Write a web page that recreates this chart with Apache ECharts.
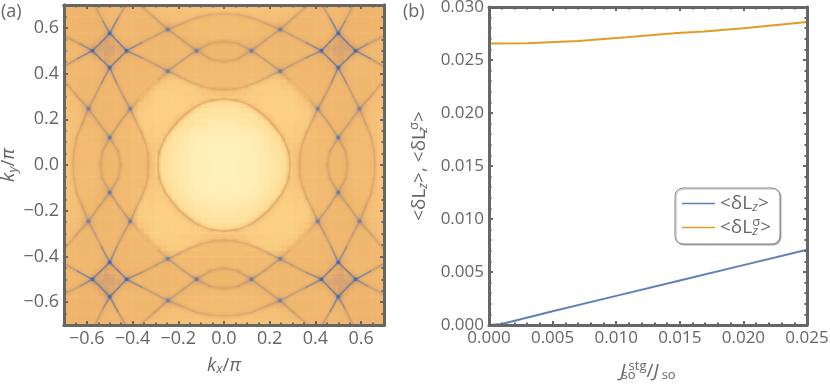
<!DOCTYPE html>
<html>
<head>
<meta charset="utf-8">
<style>html,body{margin:0;padding:0;background:#fff}#chart{width:830px;height:385px}</style>
<script src="https://cdn.jsdelivr.net/npm/echarts@6/dist/echarts.min.js"></script>
</head>
<body>
<div id="chart"></div>
<script>
// panel (b) values
var stgRatioBlue = [0, 0.001, 0.005, 0.010, 0.015, 0.020, 0.025];
var deltaLz = [0, 0.0001, 0.0013, 0.00275, 0.0042, 0.00565, 0.0071];
var stgRatioOrange = [0, 0.003, 0.007, 0.0108, 0.0148, 0.0169, 0.020, 0.025];
var deltaLzSigma = [0.02655, 0.02657, 0.02679, 0.02714, 0.02755, 0.02770, 0.0280, 0.02858];

// panel (a) tick labels
var mapTicks = [-0.6, -0.4, -0.2, 0, 0.2, 0.4, 0.6];

// panel (a) intensity background, read off one octant of the map (the picture is four-fold symmetric)
// row j is ky = 0.0125 + 0.025 j, column i is kx = 0.0125 + 0.025 i, i <= j
var fieldRows = [
  [0],
  [0,0],
  [1,1,1],
  [2,2,3,3],
  [4,4,5,5,7],
  [6,6,7,8,9,11],
  [9,9,10,11,12,14,16],
  [12,12,13,14,15,17,20,24],
  [15,15,16,17,18,20,24,33,33],
  [18,18,19,20,22,25,33,31,30,31],
  [21,21,22,24,28,33,31,30,30,30,30],
  [27,29,34,34,33,32,31,30,30,30,30,30],
  [38,38,37,36,34,33,33,32,31,31,31,32,34],
  [44,42,40,37,35,33,32,32,32,32,33,35,38,44],
  [46,46,46,44,41,38,35,34,34,34,36,40,46,48,48],
  [46,46,46,46,46,46,45,42,38,38,42,47,48,49,49,50],
  [47,47,47,47,47,47,47,47,47,46,47,48,48,49,50,50,50],
  [47,47,47,47,47,47,47,47,48,49,50,50,50,50,50,50,50,51],
  [50,49,48,47,47,47,48,49,50,50,50,50,50,50,50,51,52,53,58],
  [50,50,50,50,49,48,48,49,50,50,50,50,50,50,50,51,52,54,60,68],
  [50,50,50,50,50,50,50,50,50,50,50,50,50,50,50,51,52,56,66,70,70],
  [50,50,49,49,50,50,50,50,50,50,50,50,50,50,50,51,52,52,56,64,70,66],
  [46,46,47,47,48,49,50,50,50,50,50,50,50,50,50,50,49,49,52,62,66,60,54],
  [46,46,46,46,47,47,48,48,49,50,50,50,50,50,50,50,49,49,49,50,54,52,52,52],
  [46,46,46,46,46,46,47,47,47,48,50,50,50,50,50,50,49,49,49,50,52,53,53,52,52],
  [46,46,46,46,44,42,42,42,42,43,44,47,49,50,50,50,49,49,49,50,50,52,52,52,52,52],
  [40,40,40,40,40,40,40,41,41,41,42,43,45,47,49,50,50,49,49,49,50,51,52,52,52,52,52],
  [38,38,38,38,38,38,38,39,39,40,40,41,42,44,46,49,50,50,49,49,50,50,52,52,52,52,52,52]
];

// panel (a) ridges as [kx, ky, strength] in the octant kx <= ky
var ridgeInner = [[0,0.29,62],[0.055,0.284,62],[0.114,0.262,63],[0.145,0.24,63],[0.171,0.219,63],[0.197,0.197,63]];
var ridgeArcLow = [[0,0.33,64],[0.05,0.333,64],[0.1,0.345,65],[0.15,0.365,67],[0.2,0.39,72],[0.246,0.41,84],[0.3,0.44,79],[0.36,0.47,81],[0.426,0.5,93],[0.465,0.54,90],[0.5,0.576,95],[0.53,0.63,81],[0.565,0.7,76]];
var ridgeArcHigh = [[0,0.66,64],[0.06,0.657,65],[0.12,0.645,68],[0.18,0.62,72],[0.246,0.593,80],[0.3,0.565,77],[0.36,0.535,81],[0.426,0.5,93],[0.463,0.463,90]];
var ridgeLensOuter = [[0,0.54,66],[0.06,0.532,69],[0.12,0.5,82],[0.18,0.46,77],[0.246,0.41,82],[0.29,0.37,46],[0.33,0.33,42]];
var ridgeLensInner = [[0,0.452,66],[0.06,0.463,69],[0.12,0.5,82],[0.18,0.545,75],[0.246,0.593,80],[0.31,0.65,75],[0.37,0.7,70]];
var ridgeCorner = [[0.43,0.7,77],[0.465,0.64,85],[0.5,0.576,95],[0.537,0.537,90]];
var ridgeList = [ridgeInner, ridgeArcLow, ridgeArcHigh, ridgeLensOuter, ridgeLensInner, ridgeCorner];
var ridgeNodes = [[0.5,0.576,100],[0.426,0.5,100],[0.12,0.5,94],[0.246,0.41,92],[0.246,0.593,92]];

var textColor = '#666666';
var frameColor = '#666666';
var fontName = '"Open Sans", sans-serif';
var mapColors = ['#fff1bb','#ffeaae','#fee09c','#fbd084','#f5c078','#f0b76e','#ebae68','#d6a474','#b49c84','#6f82aa','#3e66b3'];

var mirrors = [[1,1,0],[-1,1,0],[1,-1,0],[-1,-1,0],[1,1,1],[-1,1,1],[1,-1,1],[-1,-1,1]];

function place(p, m){
    var a = m[2] ? p[1] : p[0];
    var b = m[2] ? p[0] : p[1];
    return [m[0] * a, m[1] * b];
}

function buildField(){
    var out = [];
    for(var a = 0; a < 56; a++){
        for(var b = 0; b < 56; b++){
            var i = a >= 28 ? a - 28 : 27 - a;
            var j = b >= 28 ? b - 28 : 27 - b;
            out.push([a, b, fieldRows[Math.max(i, j)][Math.min(i, j)]]);
        }
    }
    return out;
}

function buildRidges(){
    var out = [];
    ridgeList.forEach(function(curve){
        mirrors.forEach(function(m){
            for(var k = 0; k < curve.length - 1; k++){
                var p0 = place(curve[k], m);
                var p1 = place(curve[k + 1], m);
                out.push([p0[0], p0[1], p1[0], p1[1], (curve[k][2] + curve[k + 1][2]) / 2]);
            }
        });
    });
    return out;
}

function buildNodes(){
    var out = [];
    ridgeNodes.forEach(function(n){
        mirrors.forEach(function(m){
            var p = place(n, m);
            out.push([p[0], p[1], n[2]]);
        });
    });
    return out;
}

function pairs(xs, ys){
    return xs.map(function(x, i){ return [x, ys[i]]; });
}

function cellIndex(){
    var out = [];
    for(var a = 0; a < 56; a++){ out.push(a); }
    return out;
}

function renderRidge(params, api){
    var p0 = api.coord([api.value(0), api.value(1)]);
    var p1 = api.coord([api.value(2), api.value(3)]);
    return {
        type: 'line',
        shape: {x1: p0[0], y1: p0[1], x2: p1[0], y2: p1[1]},
        style: {stroke: api.visual('color'), lineWidth: 1.5, opacity: 0.85, lineCap: 'round', shadowBlur: 3,
            shadowColor: 'rgba(190,130,80,0.55)', fill: null}
    };
}

function labelFixed(d){
    return function(v){ return v.toFixed(d).replace('-', '\u2212'); };
}

function frameAxis(opt){
    var base = {
        type: 'value', z: 6,
        axisLine: {show: true, onZero: false, lineStyle: {color: frameColor, width: 3}},
        axisTick: {show: true, inside: true, length: opt.tick || 4, lineStyle: {color: frameColor, width: 2}},
        minorTick: {show: !!opt.minor, splitNumber: opt.minor || 5, length: 2.5, lineStyle: {color: frameColor, width: 2}},
        splitLine: {show: false}, minorSplitLine: {show: false},
        axisLabel: {show: !!opt.label, color: textColor, fontSize: opt.labelSize || 17, fontFamily: fontName, margin: opt.margin || 5,
            formatter: opt.label, showMinLabel: true, showMaxLabel: true, hideOverlap: false}
    };
    if(opt.major){
        base.axisTick.customValues = opt.major;
        base.axisLabel.customValues = opt.major;
    }
    ['gridIndex', 'position', 'min', 'max', 'interval', 'name', 'nameLocation', 'nameGap', 'nameTextStyle'].forEach(function(k){
        if(opt[k] !== undefined){ base[k] = opt[k]; }
    });
    return base;
}

var nameRich = {
    it: {fontSize: 19, fontFamily: fontName, color: textColor, fontStyle: 'italic'},
    n: {fontSize: 19, fontFamily: fontName, color: textColor},
    sub: {fontSize: 13, fontFamily: fontName, color: textColor, padding: [8, 0, 0, 0]},
    subi: {fontSize: 13, fontFamily: fontName, color: textColor, fontStyle: 'italic', padding: [8, 0, 0, 0]},
    stack: {fontSize: 13, fontFamily: fontName, color: textColor, fontStyle: 'italic', padding: [8, 0, 0, 0], width: 0, align: 'left'},
    stackn: {fontSize: 13, fontFamily: fontName, color: textColor, padding: [8, 0, 0, 0], width: 0, align: 'left'},
    sup: {fontSize: 13, fontFamily: fontName, color: textColor, padding: [0, 0, 10, 0]}
};
var nameLz = '<\u03b4Lz>';
var nameLzs = '<\u03b4Lz\u03c3>';

var panelA = {left: 64, top: 5, width: 320, height: 320, outerBoundsMode: 'none'};
var panelB = {left: 489, top: 7, width: 318, height: 318, outerBoundsMode: 'none'};

var option = {
    animation: false,
    backgroundColor: '#ffffff',
    textStyle: {fontFamily: fontName},
    grid: [panelA, panelA, panelB, panelA],
    xAxis: [
        {type: 'category', gridIndex: 0, show: false, data: cellIndex()},
        frameAxis({gridIndex: 1, position: 'bottom', min: -0.7, max: 0.7, interval: 0.05, tick: 2.5}),
        frameAxis({gridIndex: 1, position: 'top', min: -0.7, max: 0.7, interval: 0.05, tick: 2.5}),
        frameAxis({gridIndex: 2, position: 'bottom', min: 0, max: 0.025, interval: 0.005, minor: 5, label: labelFixed(3),
            name: '{it|J\u2009}{stackn|so}{sup|stg}{n|/}{it|J\u2009}{sub|so}', nameLocation: 'middle', nameGap: 35,
            nameTextStyle: {rich: nameRich}}),
        frameAxis({gridIndex: 2, position: 'top', min: 0, max: 0.025, interval: 0.005, minor: 5}),
        frameAxis({gridIndex: 3, position: 'bottom', min: -0.7, max: 0.7, major: mapTicks, label: labelFixed(1), labelSize: 18,
            name: '{it|k}{subi|x}{n|/}{it|\u03c0}', nameLocation: 'middle', nameGap: 30, nameTextStyle: {rich: nameRich}}),
        frameAxis({gridIndex: 3, position: 'top', min: -0.7, max: 0.7, major: mapTicks})
    ],
    yAxis: [
        {type: 'category', gridIndex: 0, show: false, data: cellIndex()},
        frameAxis({gridIndex: 1, position: 'left', min: -0.7, max: 0.7, interval: 0.05, tick: 2.5}),
        frameAxis({gridIndex: 1, position: 'right', min: -0.7, max: 0.7, interval: 0.05, tick: 2.5}),
        frameAxis({gridIndex: 2, position: 'left', min: 0, max: 0.03, interval: 0.005, minor: 5, label: labelFixed(3),
            name: '{n|<\u03b4L}{subi|z}{n|>, <\u03b4L}{stack|z}{sup|\u03c3}{n|>}', nameLocation: 'middle', nameGap: 58, nameTextStyle: {rich: nameRich}}),
        frameAxis({gridIndex: 2, position: 'right', min: 0, max: 0.03, interval: 0.005, minor: 5}),
        frameAxis({gridIndex: 3, position: 'left', min: -0.7, max: 0.7, major: mapTicks, label: labelFixed(1), labelSize: 18,
            name: '{it|k}{subi|y}{n|/}{it|\u03c0}', nameLocation: 'middle', nameGap: 39, nameTextStyle: {rich: nameRich}}),
        frameAxis({gridIndex: 3, position: 'right', min: -0.7, max: 0.7, major: mapTicks})
    ],
    visualMap: [
        {show: false, seriesIndex: 0, dimension: 2, min: 0, max: 100, inRange: {color: mapColors}},
        {show: false, seriesIndex: 1, dimension: 4, min: 0, max: 100, inRange: {color: mapColors}},
        {show: false, seriesIndex: 2, dimension: 2, min: 0, max: 100, inRange: {color: mapColors}}
    ],
    legend: {
        show: true, orient: 'vertical', left: 675, top: 188, padding: [6, 9, 6, 7], itemGap: 2,
        icon: 'rect', itemWidth: 33, itemHeight: 1.5, backgroundColor: '#ffffff', borderColor: '#8a8a8a', borderWidth: 1, borderRadius: 8,
        shadowColor: 'rgba(0,0,0,0.3)', shadowOffsetX: 1, shadowOffsetY: 1, shadowBlur: 1,
        data: [nameLz, nameLzs],
        textStyle: {color: textColor, fontSize: 19, fontFamily: fontName, rich: nameRich},
        formatter: function(name){
            if(name === nameLz){ return '{n|<\u03b4L}{subi|z}{n|>}'; }
            return '{n|<\u03b4L}{stack|z}{sup|\u03c3}{n|>}';
        }
    },
    graphic: [
        {type: 'text', left: 1, top: 3, style: {text: '(a)', fill: textColor, font: '18px "Open Sans"'}},
        {type: 'text', left: 403, top: 3, style: {text: '(b)', fill: textColor, font: '18px "Open Sans"'}}
    ],
    series: [
        {type: 'heatmap', xAxisIndex: 0, yAxisIndex: 0, data: buildField(), z: 1, itemStyle: {borderWidth: 0}, progressive: 0},
        {type: 'custom', xAxisIndex: 1, yAxisIndex: 1, data: buildRidges(), renderItem: renderRidge, clip: true, z: 2,
            encode: {x: [0, 2], y: [1, 3]}},
        {type: 'scatter', xAxisIndex: 1, yAxisIndex: 1, data: buildNodes(), symbolSize: 4, z: 3, clip: true,
            itemStyle: {shadowBlur: 6, shadowColor: '#3e66b3'}},
        {type: 'line', name: nameLz, xAxisIndex: 3, yAxisIndex: 3, data: pairs(stgRatioBlue, deltaLz), symbol: 'none',
            itemStyle: {color: '#5e81b5'}, lineStyle: {color: '#5e81b5', width: 2}},
        {type: 'line', name: nameLzs, xAxisIndex: 3, yAxisIndex: 3, data: pairs(stgRatioOrange, deltaLzSigma), symbol: 'none',
            itemStyle: {color: '#e19c24'}, lineStyle: {color: '#e19c24', width: 2}}
    ]
};

var chart = echarts.init(document.getElementById('chart'));
chart.setOption(option);
</script>
</body>
</html>
